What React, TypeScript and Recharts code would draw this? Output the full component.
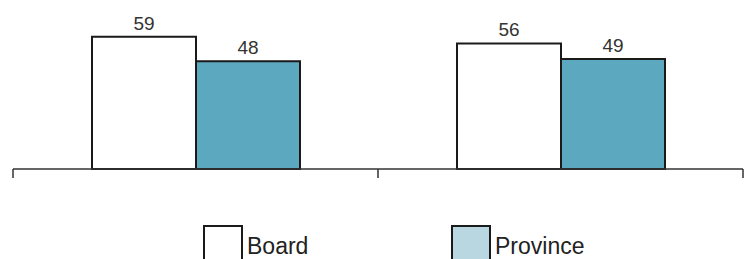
import { BarChart, Bar, XAxis, YAxis, LabelList } from 'recharts'

const groups = ['Group A', 'Group B']
const board = [59, 56]
const province = [48, 49]

const chartData = groups.map((g, i) => ({ group: g, board: board[i], province: province[i] }))

const FONT = 'Arial, "Liberation Sans", sans-serif'
const EDGE = '#1a1a1a'
const AXIS = '#333'

const W = 746
const H = 259
const MARGIN = { top: 12, right: 3, left: 13, bottom: 0 }
const HALF_BAND = (W - MARGIN.left - MARGIN.right) / groups.length / 2

// marks sit on the category edges, not the centres
function EdgeTick(props: any) {
  const { x, y, index } = props
  const top = y - 11
  const bottom = y - 2
  return (
    <g>
      <line x1={x - HALF_BAND} x2={x - HALF_BAND} y1={top} y2={bottom} stroke={AXIS} strokeWidth={1.5} />
      {index === groups.length - 1 && (
        <line x1={x + HALF_BAND} x2={x + HALF_BAND} y1={top} y2={bottom} stroke={AXIS} strokeWidth={1.5} />
      )}
    </g>
  )
}

function LegendBox() {
  const item = (left: number, fill: string, text: string) => (
    <div style={{ position: 'absolute', left, top: 0, height: 40 }}>
      <div style={{
        position: 'absolute', left: 0, top: 0, width: 36, height: 40,
        border: `2px solid ${EDGE}`, background: fill,
      }} />
      <span style={{
        position: 'absolute', left: 44, top: 6, fontSize: 23, lineHeight: '30px',
        color: '#222', fontFamily: FONT, whiteSpace: 'nowrap',
      }}>{text}</span>
    </div>
  )
  return (
    <div style={{ position: 'absolute', left: 0, top: 225, width: W, height: 40 }}>
      {item(203, '#fff', 'Board')}
      {item(451, '#b8d7e1', 'Province')}
    </div>
  )
}

export default function App() {
  return (
    <div style={{ position: 'absolute', left: 0, top: 0, width: W, height: H, overflow: 'hidden', background: '#fff' }}>
      <BarChart
        width={W}
        height={H}
        data={chartData}
        margin={MARGIN}
        barSize={104}
        barGap={0}
      >
        <XAxis
          dataKey="group"
          interval={0}
          tick={<EdgeTick />}
          tickLine={false}
          tickSize={9}
          tickMargin={2}
          height={90}
          stroke={AXIS}
          strokeWidth={1.5}
        />
        <YAxis hide domain={[0, 70]} />
        <Bar dataKey="board" name="Board" fill="#fff" stroke={EDGE} strokeWidth={2} isAnimationActive={false}>
          <LabelList dataKey="board" position="top" offset={7} fontSize={19} fill="#333" fontFamily={FONT} />
        </Bar>
        <Bar dataKey="province" name="Province" fill="#5ca8bf" stroke={EDGE} strokeWidth={2} isAnimationActive={false}>
          <LabelList dataKey="province" position="top" offset={7} fontSize={19} fill="#333" fontFamily={FONT} />
        </Bar>
      </BarChart>
      <LegendBox />
    </div>
  )
}
